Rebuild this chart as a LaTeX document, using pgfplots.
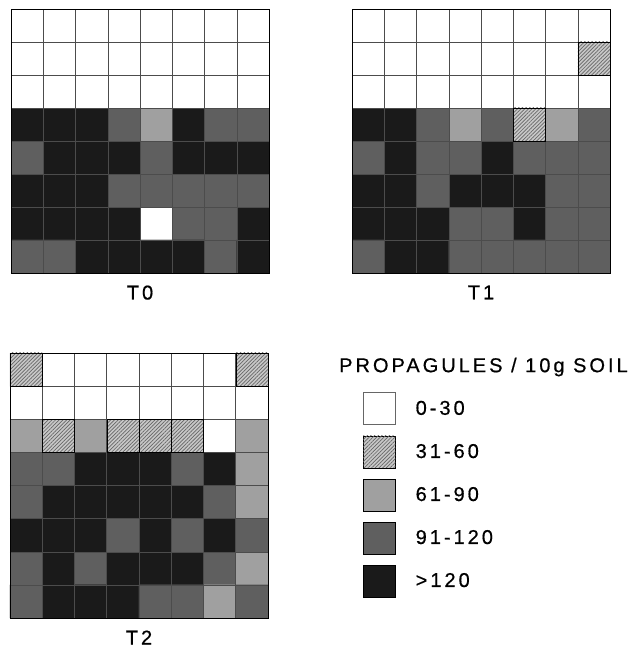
\documentclass[border=0pt]{standalone}
\usepackage{fontspec}
\setmainfont{Liberation Sans}
\newfontfamily\spaced{Liberation Sans}[LetterSpace=15, FakeBold=0.6]
\usepackage{pgfplots}
\pgfplotsset{compat=1.18}
\usepackage{pgfplotstable}
\usetikzlibrary{patterns.meta}

\definecolor{c0}{RGB}{255,255,255}
\definecolor{c1}{RGB}{200,200,200}
\definecolor{c2}{RGB}{160,160,160}
\definecolor{c3}{RGB}{95,95,95}
\definecolor{c4}{RGB}{26,26,26}

\pgfplotstableread[row sep=\\]{
x y c\\
1 1 0\\ 2 1 0\\ 3 1 0\\ 4 1 0\\ 5 1 0\\ 6 1 0\\ 7 1 0\\ 8 1 0\\
1 2 0\\ 2 2 0\\ 3 2 0\\ 4 2 0\\ 5 2 0\\ 6 2 0\\ 7 2 0\\ 8 2 0\\
1 3 0\\ 2 3 0\\ 3 3 0\\ 4 3 0\\ 5 3 0\\ 6 3 0\\ 7 3 0\\ 8 3 0\\
1 4 4\\ 2 4 4\\ 3 4 4\\ 4 4 3\\ 5 4 2\\ 6 4 4\\ 7 4 3\\ 8 4 3\\
1 5 3\\ 2 5 4\\ 3 5 4\\ 4 5 4\\ 5 5 3\\ 6 5 4\\ 7 5 4\\ 8 5 4\\
1 6 4\\ 2 6 4\\ 3 6 4\\ 4 6 3\\ 5 6 3\\ 6 6 3\\ 7 6 3\\ 8 6 3\\
1 7 4\\ 2 7 4\\ 3 7 4\\ 4 7 4\\ 5 7 0\\ 6 7 3\\ 7 7 3\\ 8 7 4\\
1 8 3\\ 2 8 3\\ 3 8 4\\ 4 8 4\\ 5 8 4\\ 6 8 4\\ 7 8 3\\ 8 8 4\\
}\tzero

\pgfplotstableread[row sep=\\]{
x y c\\
1 1 0\\ 2 1 0\\ 3 1 0\\ 4 1 0\\ 5 1 0\\ 6 1 0\\ 7 1 0\\ 8 1 0\\
1 2 0\\ 2 2 0\\ 3 2 0\\ 4 2 0\\ 5 2 0\\ 6 2 0\\ 7 2 0\\ 8 2 1\\
1 3 0\\ 2 3 0\\ 3 3 0\\ 4 3 0\\ 5 3 0\\ 6 3 0\\ 7 3 0\\ 8 3 0\\
1 4 4\\ 2 4 4\\ 3 4 3\\ 4 4 2\\ 5 4 3\\ 6 4 1\\ 7 4 2\\ 8 4 3\\
1 5 3\\ 2 5 4\\ 3 5 3\\ 4 5 3\\ 5 5 4\\ 6 5 3\\ 7 5 3\\ 8 5 3\\
1 6 4\\ 2 6 4\\ 3 6 3\\ 4 6 4\\ 5 6 4\\ 6 6 4\\ 7 6 3\\ 8 6 3\\
1 7 4\\ 2 7 4\\ 3 7 4\\ 4 7 3\\ 5 7 3\\ 6 7 4\\ 7 7 3\\ 8 7 3\\
1 8 3\\ 2 8 4\\ 3 8 4\\ 4 8 3\\ 5 8 3\\ 6 8 3\\ 7 8 3\\ 8 8 3\\
}\tone

\pgfplotstableread[row sep=\\]{
x y c\\
1 1 1\\ 2 1 0\\ 3 1 0\\ 4 1 0\\ 5 1 0\\ 6 1 0\\ 7 1 0\\ 8 1 1\\
1 2 0\\ 2 2 0\\ 3 2 0\\ 4 2 0\\ 5 2 0\\ 6 2 0\\ 7 2 0\\ 8 2 0\\
1 3 2\\ 2 3 1\\ 3 3 2\\ 4 3 1\\ 5 3 1\\ 6 3 1\\ 7 3 0\\ 8 3 2\\
1 4 3\\ 2 4 3\\ 3 4 4\\ 4 4 4\\ 5 4 4\\ 6 4 3\\ 7 4 4\\ 8 4 2\\
1 5 3\\ 2 5 4\\ 3 5 4\\ 4 5 4\\ 5 5 4\\ 6 5 4\\ 7 5 3\\ 8 5 2\\
1 6 4\\ 2 6 4\\ 3 6 4\\ 4 6 3\\ 5 6 4\\ 6 6 3\\ 7 6 4\\ 8 6 3\\
1 7 3\\ 2 7 4\\ 3 7 3\\ 4 7 4\\ 5 7 4\\ 6 7 4\\ 7 7 3\\ 8 7 2\\
1 8 3\\ 2 8 4\\ 3 8 4\\ 4 8 4\\ 5 8 3\\ 6 8 3\\ 7 8 2\\ 8 8 3\\
}\ttwo

\pgfplotsset{
  gridax/.style={
    scale only axis, width=258pt, height=264pt,
    anchor=south west,
    xmin=0.5, xmax=8.5, ymin=0.5, ymax=8.5, y dir=reverse,
    xtick={1.5,2.5,...,7.5}, ytick={1.5,2.5,...,7.5},
    xticklabels={}, yticklabels={}, major tick length=0pt,
    grid=major, grid style={black!70, line width=0.5pt},
    axis line style={black, line width=0.7pt},
    axis on top,
    colormap={cats}{rgb255=(255,255,255) rgb255=(200,200,200) rgb255=(160,160,160) rgb255=(95,95,95) rgb255=(26,26,26)},
    colormap access=direct,
    xlabel style={at={(axis description cs:0.5,0)}, anchor=north, yshift=-9pt, font=\fontsize{20}{24}\selectfont\spaced},
  },
  cellplot/.style={matrix plot*, mesh/cols=8, point meta=explicit},
  hatchplot/.style={only marks, mark=square*, mark size=16.1pt,
    mark options={draw=none, fill=none, yscale=1.03,
      pattern={Lines[angle=45, distance=2.6pt, line width=0.7pt]}, pattern color=black!60},
    restrict expr to domain={\thisrow{c}}{1:1}, unbounded coords=discard},
}

\begin{document}
\begin{tikzpicture}
\useasboundingbox (0,0) rectangle (631pt,652pt);

\begin{axis}[gridax, at={(11pt,379pt)}, xlabel={T0}]
\addplot[cellplot] table[x=x, y=y, meta=c] {\tzero};
\end{axis}

\begin{axis}[gridax, at={(352pt,379pt)}, xlabel={T1}]
\addplot[cellplot] table[x=x, y=y, meta=c] {\tone};
\addplot[hatchplot] table[x=x, y=y] {\tone};
\end{axis}

\begin{axis}[gridax, at={(10pt,34pt)}, height=265pt, xlabel={T2},
  legend style={draw=none, fill=none, at={(axis description cs:1.367,0.853)}, anchor=north west,
    row sep=10.6pt, inner sep=0pt, font=\fontsize{20}{24}\selectfont\spaced,
    /tikz/every odd column/.append style={column sep=18pt}},
  legend cell align=left,
  legend image code/.code={\draw[#1] (0pt,-16pt) rectangle (32pt,16pt);}]
\addplot[cellplot, forget plot] table[x=x, y=y, meta=c] {\ttwo};
\addplot[hatchplot, forget plot] table[x=x, y=y] {\ttwo};
\addlegendimage{fill=c0, draw=black!60, line width=0.8pt}
\addlegendentry{0-30}
\addlegendimage{fill=c1, draw=none, postaction={pattern={Lines[angle=45, distance=2.6pt, line width=0.7pt]}, pattern color=black!60}}
\addlegendentry{31-60}
\addlegendimage{fill=c2, draw=none}
\addlegendentry{61-90}
\addlegendimage{fill=c3, draw=none}
\addlegendentry{91-120}
\addlegendimage{fill=c4, draw=none}
\addlegendentry{>120}
\end{axis}

\node[anchor=west, inner sep=0pt, font=\fontsize{20}{24}\selectfont\spaced] at (339pt,285pt) {PROPAGULES / 10g SOIL};
\end{tikzpicture}
\end{document}
